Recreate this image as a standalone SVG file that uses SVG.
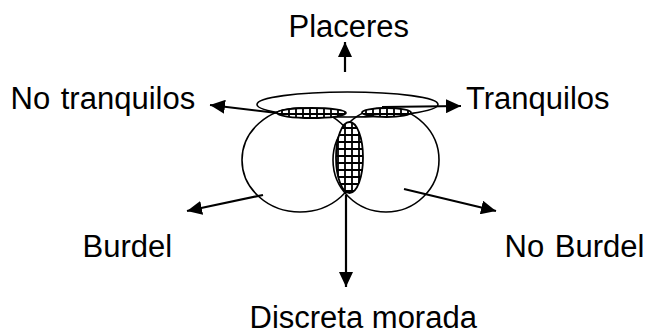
<svg xmlns="http://www.w3.org/2000/svg" width="649" height="335" viewBox="0 0 649 335">
<style>
.shape{fill:none;stroke:#000;stroke-width:1.6}
.hatch{fill:url(#grid);stroke:#000;stroke-width:1.8}
.arrow{stroke:#000;stroke-width:2.2;fill:none;marker-end:url(#head)}
.lbl{font-family:"Liberation Sans",Arial,sans-serif;font-size:31px;fill:#000}
.ws{word-spacing:2px}
</style>
<defs>
<pattern id="grid" patternUnits="userSpaceOnUse" width="7" height="7" x="1" y="1">
<rect width="7" height="7" fill="#fff"/>
<path d="M0,1 H7 M1,0 V7" stroke="#000" stroke-width="1.8"/>
</pattern>
<marker id="head" markerUnits="userSpaceOnUse" markerWidth="15" markerHeight="14" refX="15" refY="7" orient="auto">
<path d="M0,0 L15,7 L0,14 z" fill="#000"/>
</marker>
</defs>
<g id="burdel-circle"><ellipse class="shape" cx="300" cy="160" rx="58" ry="52"/></g>
<g id="noburdel-circle"><ellipse class="shape" cx="386" cy="160" rx="53" ry="52"/></g>
<g id="placeres-ellipse"><ellipse class="shape" cx="347.5" cy="104.5" rx="90.5" ry="12.5"/></g>
<g id="hatch-left"><ellipse class="hatch" cx="311.5" cy="113" rx="34.5" ry="5"/></g>
<g id="hatch-right"><ellipse class="hatch" cx="386.5" cy="112.5" rx="24.5" ry="4.5"/></g>
<g id="hatch-middle"><ellipse class="hatch" cx="349.5" cy="157.5" rx="13.5" ry="35.5"/></g>
<g id="connectors">
<line class="arrow" x1="345" y1="72" x2="345" y2="42"/>
<line class="arrow" x1="277" y1="113" x2="210" y2="105"/>
<line class="arrow" x1="382" y1="107" x2="461" y2="106"/>
<line class="arrow" x1="263" y1="195" x2="187" y2="211"/>
<line class="arrow" x1="404" y1="189" x2="496" y2="211"/>
<line class="arrow" x1="346" y1="195" x2="346" y2="287"/>
</g>
<g id="labels">
<text class="lbl" x="288.5" y="37">Placeres</text>
<text class="lbl ws" x="10.5" y="109">No tranquilos</text>
<text class="lbl" x="466" y="109">Tranquilos</text>
<text class="lbl" x="82.5" y="257">Burdel</text>
<text class="lbl ws" x="504.5" y="257">No Burdel</text>
<text class="lbl" x="249.5" y="328">Discreta morada</text>
</g>
</svg>
